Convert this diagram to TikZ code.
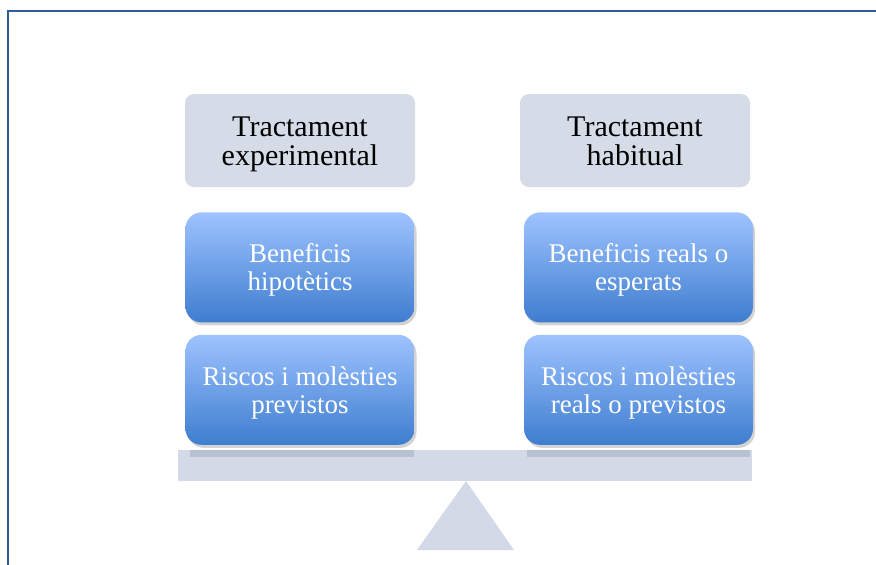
\documentclass[tikz,border=0pt]{standalone}
\usepackage{fontspec}
\setmainfont{Liberation Serif}
\usetikzlibrary{positioning,shadows}
\definecolor{headgray}{HTML}{D5DBE7}
\definecolor{blautop}{HTML}{9EC3FF}
\definecolor{blaubot}{HTML}{3E7DCF}
\definecolor{framecol}{HTML}{2F5B96}
\definecolor{beamgray}{HTML}{D3D9E6}
\definecolor{beamdark}{HTML}{B8C1D0}

\begin{document}
\begin{tikzpicture}[x=1pt,y=-1pt,node distance=25pt,
    head/.style={rectangle,rounded corners=9pt,fill=headgray,minimum width=230pt,minimum height=93pt,align=center,font=\fontsize{30}{29}\selectfont,
      text height=58pt,text depth=9pt},
    blau/.style={rectangle,rounded corners=16pt,top color=blautop,bottom color=blaubot,minimum width=229pt,minimum height=110pt,align=center,text=white,font=\fontsize{27}{28}\selectfont,
      text height=55pt,text depth=8pt,
      drop shadow={shadow xshift=2pt,shadow yshift=-3pt,opacity=.35}}]
    \useasboundingbox (0,0) rectangle (876,565);
    \draw[framecol,line width=2pt] (8,567) |- (878,11);

    \node[head] (exp) at (300,140.5) {Tractament\\experimental};
    \node[head] (hab) at (635,140.5) {Tractament\\habitual};

    \node[blau,below=25pt of exp] (benexp) {Beneficis\\hipotètics};
    \node[blau,below=12pt of benexp] (risexp) {Riscos i molèsties\\previstos};
    \node[blau,below=25pt of hab,xshift=3.5pt] (benhab) {Beneficis reals o\\esperats};
    \node[blau,below=12pt of benhab] (rishab) {Riscos i molèsties\\reals o previstos};

    % balanca
    \fill[beamgray] (178,450) rectangle (752,481);
    \fill[beamdark] (190,450) rectangle (414,457);
    \fill[beamdark] (527,450) rectangle (750,457);
    \fill[beamgray] (466,481) -- (514,550) -- (417,550) -- cycle;
\end{tikzpicture}
\end{document}
